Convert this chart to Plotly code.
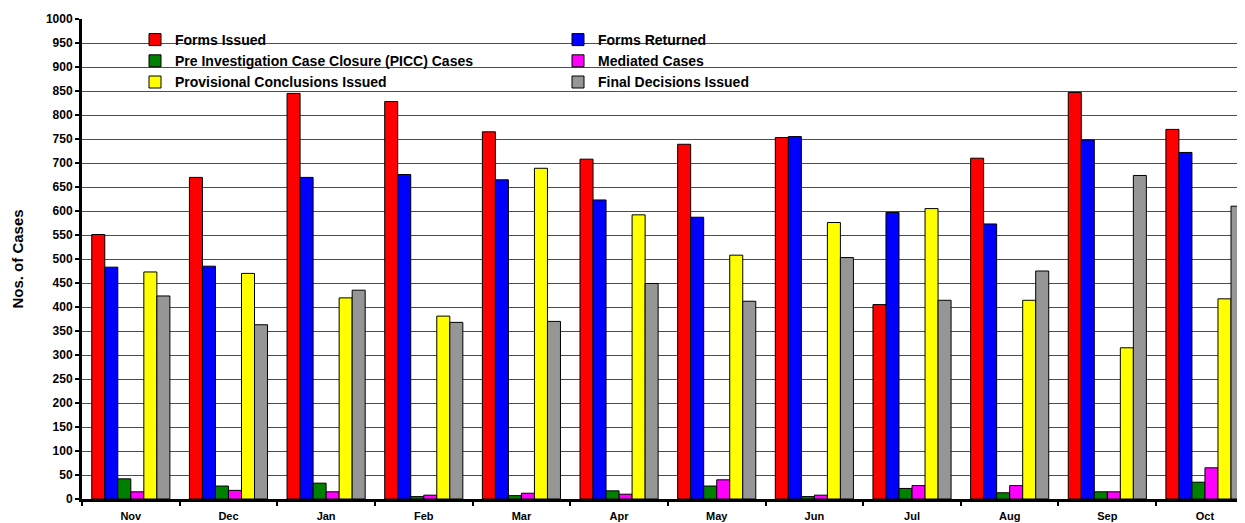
import plotly.graph_objects as go

months = ["Nov", "Dec", "Jan", "Feb", "Mar", "Apr", "May", "Jun", "Jul", "Aug", "Sep", "Oct"]

forms_issued = [551, 670, 845, 828, 765, 708, 739, 753, 405, 710, 847, 770]
forms_returned = [483, 485, 670, 676, 665, 623, 587, 755, 597, 573, 748, 722]
picc_cases = [42, 27, 33, 5, 7, 17, 27, 5, 22, 13, 15, 35]
mediated_cases = [15, 18, 15, 8, 12, 10, 40, 8, 28, 28, 15, 65]
provisional = [473, 470, 419, 381, 689, 592, 508, 576, 605, 414, 315, 417]
final_decisions = [423, 363, 435, 368, 370, 449, 412, 503, 414, 475, 674, 610]

series = [
    ("Forms Issued", forms_issued, "#FF0000"),
    ("Forms Returned", forms_returned, "#0000FF"),
    ("Pre Investigation Case Closure (PICC) Cases", picc_cases, "#008000"),
    ("Mediated Cases", mediated_cases, "#FF00FF"),
    ("Provisional Conclusions Issued", provisional, "#FFFF00"),
    ("Final Decisions Issued", final_decisions, "#969696"),
]

FONT = "Liberation Sans, Arial, sans-serif"

fig = go.Figure()
for name, vals, color in series:
    fig.add_trace(go.Bar(
        name=name, x=months, y=vals,
        marker=dict(color=color, line=dict(color="black", width=1)),
    ))

# page body has an 8px margin, so the figure is sized to the visible window
W, H = 1237, 515
ml, mr, mt, mb = 74, 0, 11, 24
PW = W - ml - mr
PH = H - mt - mb


def px_x(x):
    return (x - 8 - ml) / PW


def px_y(y):
    return (H - mb - (y - 8)) / PH


fig.update_layout(
    width=W, height=H,
    margin=dict(l=ml, r=mr, t=mt, b=mb, autoexpand=False),
    paper_bgcolor="white", plot_bgcolor="white",
    barmode="group", bargap=0.2, bargroupgap=0,
    font=dict(family=FONT, color="black", size=12, weight="bold"),
    showlegend=True,
    legend=dict(
        orientation="h", x=px_x(135), xanchor="left",
        y=px_y(24), yanchor="top",
        entrywidth=378, entrywidthmode="pixels",
        bgcolor="rgba(0,0,0,0)", traceorder="normal",
        font=dict(family=FONT, size=14, color="black", weight="bold"),
    ),
    shapes=[dict(
        type="rect", xref="paper", yref="paper", layer="between",
        x0=px_x(130), x1=px_x(970),
        y0=px_y(112), y1=px_y(21),
        fillcolor="white", line=dict(width=0),
    )],
    xaxis=dict(
        range=[-0.5, 11.41],
        tickson="boundaries", ticks="outside", ticklen=4, tickwidth=2,
        tickcolor="black", ticklabelstandoff=5,
        showline=True, linecolor="black", linewidth=3,
        showgrid=False,
        tickfont=dict(family=FONT, size=11, color="black", weight="bold"),
    ),
    yaxis=dict(
        range=[0, 1000], dtick=50, tick0=0,
        ticks="outside", ticklen=4, tickwidth=2, tickcolor="black",
        showline=True, linecolor="black", linewidth=3,
        showgrid=True, gridcolor="#4d4d4d", gridwidth=1,
        zeroline=False,
        tickfont=dict(family=FONT, size=12, color="black", weight="bold"),
        title=dict(text="Nos. of Cases", standoff=19,
                   font=dict(family=FONT, size=15, color="black", weight="bold")),
    ),
)

fig.write_html("out.html")
